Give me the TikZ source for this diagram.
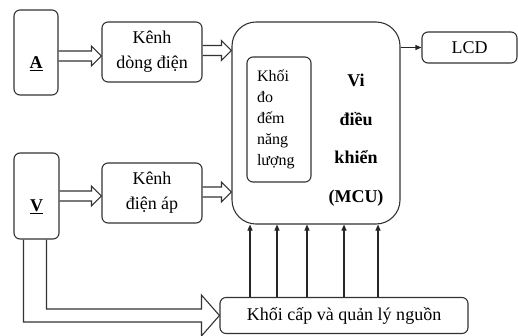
\documentclass[tikz,border=0pt]{standalone}
\usepackage{fontspec}
\setmainfont{LiberationSerif}[Extension=.ttf, UprightFont=*-Regular, BoldFont=*-Bold,
  ItalicFont=*-Italic, BoldItalicFont=*-BoldItalic]
\usetikzlibrary{arrows.meta,calc}

% hollow block arrow from #1 (start on a box edge) to tip #2
\newcommand{\hollowarrow}[2]{%
  \draw[hollow] ($(#1)+(0,-5)$) -- ($(#2)+(-10,-5)$) -- ($(#2)+(-10,-10)$) -- (#2)
    -- ($(#2)+(-10,10)$) -- ($(#2)+(-10,5)$) -- ($(#1)+(0,5)$);}

\begin{document}
\begin{tikzpicture}[
  x=1pt, y=-1pt,
  box/.style={draw=black!80, line width=1.1pt, rounded corners=6pt,
              font=\rmfamily\fontsize{18}{25}\selectfont, align=center, inner sep=0pt},
  lab/.style={font=\rmfamily\bfseries\fontsize{18}{22}\selectfont},
  hollow/.style={draw=black!80, line width=1.1pt, line join=miter},
  ar/.style={-{Triangle[length=6pt,width=5pt]}, draw=black!85, line width=1.1pt}
]
  \useasboundingbox (0,0) rectangle (518,335);

  \node[box, minimum width=44pt, minimum height=85pt] (A) at (36,52.5) {};
  \node[lab] (alab) at ($(A)+(0,11)$) {\underline{A}};
  \node[box, minimum width=45pt, minimum height=86pt] (V) at (36.5,196) {};
  \node[lab] (vlab) at ($(V)+(0,11)$) {\underline{V}};

  \node[box, minimum width=100pt, minimum height=60pt] (kd) at (152,52) {Kênh\\dòng điện};
  \node[box, minimum width=100pt, minimum height=60pt] (ka) at (152,193) {Kênh\\điện áp};

  \node[box, rounded corners=24pt, minimum width=168pt, minimum height=202pt] (mcu) at (316,123) {};
  \node[box, minimum width=64pt, minimum height=125pt, align=left, text width=44pt,
        font=\rmfamily\fontsize{16}{21}\selectfont] (meas) at (279,119.5) {Khối\\đo\\đếm\\năng\\lượng};
  \node[font=\rmfamily\bfseries\fontsize{18}{38.5}\selectfont, align=center] (mcutxt) at (356,140)
        {Vi\\điều\\khiển\\(MCU)};

  \node[box, minimum width=95pt, minimum height=31pt] (lcd) at (469.5,47.5) {LCD};
  \node[box, minimum width=248pt, minimum height=36pt] (pwr) at (344,315.5)
        {Khối cấp và quản lý nguồn};

  % block arrows
  \coordinate (p1) at ($(A.east)+(0,3.5)$);  \coordinate (q1) at (kd.west |- p1);
  \coordinate (p2) at ($(kd.east)+(0,-1.5)$); \coordinate (q2) at (mcu.west |- p2);
  \coordinate (p3) at (V.east);               \coordinate (q3) at (ka.west |- p3);
  \coordinate (p4) at ($(ka.east)+(0,-1)$);   \coordinate (q4) at (mcu.west |- p4);
  \hollowarrow{p1}{q1}
  \hollowarrow{p2}{q2}
  \hollowarrow{p3}{q3}
  \hollowarrow{p4}{q4}

  \draw[hollow] ($(V.south west)+(10,0)$) |- ($(pwr.west)+(-18,6.5)$)
    -- ($(pwr.west)+(-18,20.5)$) -- (pwr.west) -- ($(pwr.west)+(-18,-20.5)$)
    -- ($(pwr.west)+(-18,-6.5)$) -| ($(V.south west)+(33,0)$);

  % thin arrows
  \draw[ar] (mcu.east |- lcd) -- (lcd.west);
  \foreach \x in {250,277,307,344,378}
    \draw[ar] (pwr.north -| \x,0) -- (mcu.south -| \x,0);
\end{tikzpicture}
\end{document}
